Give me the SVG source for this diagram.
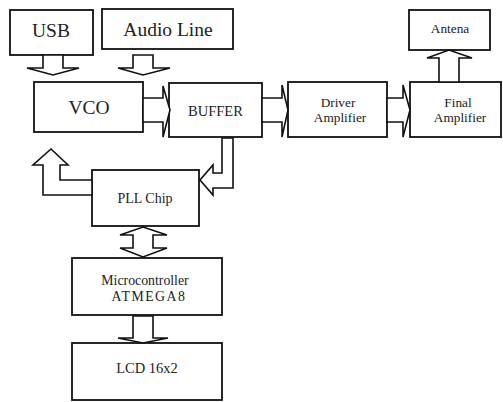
<svg xmlns="http://www.w3.org/2000/svg" width="503" height="402" viewBox="0 0 503 402">
<style>
.box{fill:#fff;stroke:#111;stroke-width:1.8}
.arr{fill:#fff;stroke:#111;stroke-width:1.6;stroke-linejoin:miter}
text{fill:#222;text-anchor:middle;font-family:"Liberation Serif","Times New Roman",serif}
.big{font-size:19.5px}
.mid{font-size:14.5px}
.sm{font-size:13.3px}
</style>
<rect width="503" height="402" fill="#fff"/>
<g id="usb"><rect class="box" x="10" y="10" width="83" height="45"/><text class="big" x="51" y="37">USB</text></g>
<g id="audio"><rect class="box" x="102" y="9" width="131" height="40"/><text class="big" x="168" y="36">Audio Line</text></g>
<g id="vco"><rect class="box" x="34" y="82" width="109" height="50"/><text class="big" x="89" y="114">VCO</text></g>
<g id="buffer"><rect class="box" x="169" y="83" width="93" height="54"/><text class="mid" x="215.5" y="116">BUFFER</text></g>
<g id="driver"><rect class="box" x="288" y="82" width="99" height="55"/><text class="sm" x="338" y="107">Driver</text><text class="sm" x="340" y="122">Amplifier</text></g>
<g id="final"><rect class="box" x="410" y="82" width="91" height="55"/><text class="sm" x="458" y="107">Final</text><text class="sm" x="460" y="122">Amplifier</text></g>
<g id="antena"><rect class="box" x="409" y="10" width="81" height="40"/><text class="sm" x="450" y="33">Antena</text></g>
<g id="pll"><rect class="box" x="92" y="170" width="107" height="56"/><text class="mid" x="145" y="203" style="font-size:14px">PLL Chip</text></g>
<g id="micro"><rect class="box" x="72" y="258" width="150" height="57"/><text class="sm" x="145" y="285" style="font-size:13.8px">Microcontroller</text><text class="sm" x="149" y="301" style="font-size:13.8px;letter-spacing:1.5px">ATMEGA8</text></g>
<g id="lcd"><rect class="box" x="72" y="343" width="150" height="57"/><text class="mid" x="147" y="373">LCD 16x2</text></g>
<g id="connectors">
<polygon class="arr" points="43,55 63,55 63,68 79,68 53,75 27,68 43,68"/>
<polygon class="arr" points="133,55 153,55 153,68 170,68 143,75 118,68 133,68"/>
<polygon class="arr" points="143,98 163,98 163,86 170,110 163,137 163,122 143,122"/>
<polygon class="arr" points="262,98 282,98 282,85 288,110 282,137 282,122 262,122"/>
<polygon class="arr" points="387,98 403,98 403,85 410,110 403,137 403,122 387,122"/>
<polygon class="arr" points="439,82 439,58 427,58 449,50 472,58 459,58 459,82"/>
<polygon class="arr" points="92,195 43,195 43,165 33,165 51,149 68,165 60,165 60,180 92,180"/>
<polygon class="arr" points="222,138 222,173 213,173 213,165 200,180 213,195 213,188 233,188 233,138"/>
<polygon class="arr" points="133,235 120,235 143,227 167,235 153,235 153,248 167,248 143,257 120,248 133,248"/>
<polygon class="arr" points="133,316 153,316 153,338 168,338 143,343 118,338 133,338"/>
</g>
</svg>
